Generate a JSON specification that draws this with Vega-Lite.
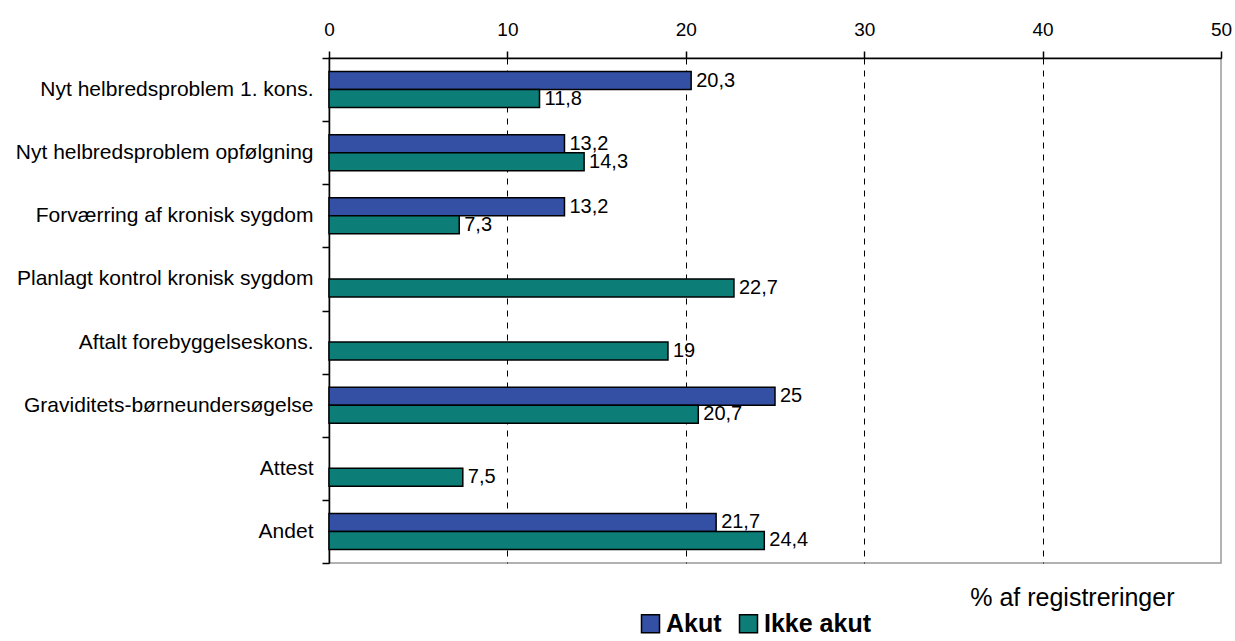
{
  "$schema": "https://vega.github.io/schema/vega-lite/v6.json",
  "width": 892,
  "height": 505,
  "autosize": {"type": "none"},
  "padding": {"left": 329, "top": 58, "right": 14, "bottom": 78},
  "background": "white",
  "config": {"font": "Liberation Sans", "view": {"stroke": "#999999", "strokeWidth": 1.5}},
  "data": {
    "values": [
      {"kategori": "Nyt helbredsproblem 1. kons.", "type": "Akut", "pct": 20.3, "label": "20,3"},
      {"kategori": "Nyt helbredsproblem 1. kons.", "type": "Ikke akut", "pct": 11.8, "label": "11,8"},
      {"kategori": "Nyt helbredsproblem opfølgning", "type": "Akut", "pct": 13.2, "label": "13,2"},
      {"kategori": "Nyt helbredsproblem opfølgning", "type": "Ikke akut", "pct": 14.3, "label": "14,3"},
      {"kategori": "Forværring af kronisk sygdom", "type": "Akut", "pct": 13.2, "label": "13,2"},
      {"kategori": "Forværring af kronisk sygdom", "type": "Ikke akut", "pct": 7.3, "label": "7,3"},
      {"kategori": "Planlagt kontrol kronisk sygdom", "type": "Ikke akut", "pct": 22.7, "label": "22,7"},
      {"kategori": "Aftalt forebyggelseskons.", "type": "Ikke akut", "pct": 19, "label": "19"},
      {"kategori": "Graviditets-børneundersøgelse", "type": "Akut", "pct": 25, "label": "25"},
      {"kategori": "Graviditets-børneundersøgelse", "type": "Ikke akut", "pct": 20.7, "label": "20,7"},
      {"kategori": "Attest", "type": "Ikke akut", "pct": 7.5, "label": "7,5"},
      {"kategori": "Andet", "type": "Akut", "pct": 21.7, "label": "21,7"},
      {"kategori": "Andet", "type": "Ikke akut", "pct": 24.4, "label": "24,4"}
    ]
  },
  "layer": [
    {
      "mark": {"type": "bar", "stroke": "black", "strokeWidth": 1.5},
      "encoding": {
        "y": {
          "field": "kategori", "type": "nominal", "sort": null,
          "scale": {"paddingInner": 0, "paddingOuter": 0},
          "axis": {
            "title": null, "orient": "left", "domainColor": "black", "domainWidth": 1.5,
            "tickColor": "black", "tickWidth": 1.5, "tickSize": 7, "tickBand": "extent",
            "labelFontSize": 21, "labelColor": "black", "labelPadding": 9, "labelLimit": 400
          }
        },
        "yOffset": {
          "field": "type", "type": "nominal",
          "scale": {"domain": ["Akut", "Ikke akut"], "paddingInner": 0, "paddingOuter": 0.75}
        },
        "x": {
          "field": "pct", "type": "quantitative",
          "scale": {"domain": [0, 50]},
          "axis": {
            "orient": "top", "title": null, "values": [0, 10, 20, 30, 40, 50],
            "labelFontSize": 19, "labelColor": "black", "labelPadding": 12, "labelFlush": false,
            "domainColor": "black", "domainWidth": 1.5,
            "tickColor": "black", "tickWidth": 1.5, "tickSize": 7,
            "grid": true, "gridColor": "black", "gridWidth": 1, "gridDash": [6, 6],
            "gridOpacity": {"condition": {"test": "datum.value == 0 || datum.value == 50", "value": 0}, "value": 1}
          }
        },
        "color": {
          "field": "type", "type": "nominal",
          "scale": {"domain": ["Akut", "Ikke akut"], "range": ["#3350A4", "#0D7D78"]},
          "legend": {
            "orient": "none", "direction": "horizontal", "legendX": 309, "legendY": 553,
            "title": null, "symbolType": "square", "symbolSize": 324,
            "symbolStrokeColor": "black", "symbolStrokeWidth": 1.5, "symbolOpacity": 1,
            "labelFontSize": 25, "labelFontWeight": "bold", "labelColor": "black",
            "columnPadding": 14, "labelOffset": 3
          }
        }
      }
    },
    {
      "mark": {"type": "text", "align": "left", "baseline": "middle", "dx": 5, "fontSize": 20, "color": "black"},
      "encoding": {
        "y": {"field": "kategori", "type": "nominal", "sort": null},
        "yOffset": {"field": "type", "type": "nominal"},
        "x": {
          "field": "pct", "type": "quantitative",
          "axis": {
            "orient": "bottom", "labels": false, "ticks": false, "domain": false, "grid": false,
            "title": "% af registreringer", "titleFontSize": 25, "titleFontWeight": "normal",
            "titleColor": "black", "titleAlign": "right", "titleX": 845, "titleY": 42,
            "titleBaseline": "alphabetic"
          }
        },
        "text": {"field": "label"}
      }
    }
  ],
  "resolve": {"axis": {"x": "independent"}}
}
